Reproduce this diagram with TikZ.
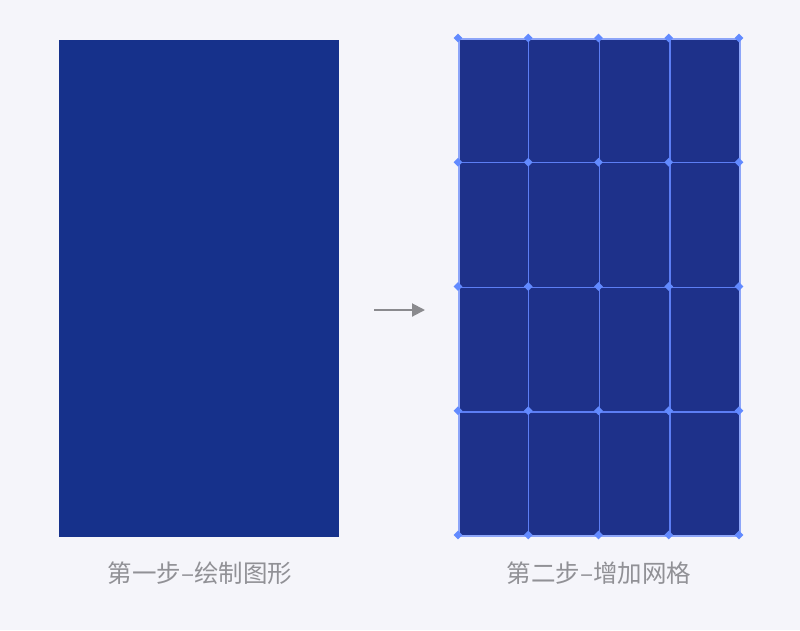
\documentclass[tikz,border=0pt]{standalone}
\usepackage{fontspec}
\newfontfamily\cjk{Noto Sans CJK SC}
\usetikzlibrary{positioning,arrows.meta,shapes.geometric,calc}
\definecolor{bgcol}{RGB}{245,245,250}
\definecolor{shapecol}{RGB}{22,49,139}
\definecolor{gridfill}{RGB}{30,49,138}
\definecolor{gridline}{RGB}{92,126,245}
\definecolor{markcol}{RGB}{98,138,255}
\definecolor{labelcol}{RGB}{145,145,150}

\begin{document}
\begin{tikzpicture}[x=1pt, y=-1pt,
  shapebox/.style={fill=shapecol, inner sep=0pt, minimum width=280pt,
                   minimum height=497pt, anchor=north west},
  gridbox/.style={fill=gridfill, draw=gridline!70!white, line width=1.5pt,
                  inner sep=0pt, minimum width=281pt, minimum height=497pt,
                  anchor=north west},
  gline/.style={draw=gridline, line width=1.5pt},
  gridmark/.style={diamond, fill=markcol, inner sep=0pt, minimum size=9pt},
  arr/.style={-{Triangle[length=13pt, width=13pt]}, line width=2pt, draw=labelcol!95!black},
  steplabel/.style={font=\cjk\fontsize{24.5}{28}\selectfont, text=labelcol}
]
  \useasboundingbox[fill=bgcol] (0,0) rectangle (800,630);

  % Left: the plain shape
  \node[shapebox] (shape) at (59,40) {};
  \node[steplabel] (lbla) at (200,573) {第一步–绘制图形};

  % Right: the same shape with a grid
  \node[gridbox] (grid) at (458,38) {};
  \foreach \i in {1,2,3} {
    \draw[gline] ($(grid.north west)!\i/4!(grid.north east)$) -- ($(grid.south west)!\i/4!(grid.south east)$);
    \draw[gline] ($(grid.north west)!\i/4!(grid.south west)$) -- ($(grid.north east)!\i/4!(grid.south east)$);
  }
  \foreach \i in {0,...,4}
    \foreach \j in {0,...,4}
      \node[gridmark] (m\i\j) at ($(grid.north west)+(\i*70.25,\j*124.25)$) {};
  \node[steplabel] (lblb) at (599,573) {第二步–增加网格};

  % Arrow between the two
  \coordinate (from) at (374,310);
  \coordinate (to) at (425,310);
  \draw[arr] (from) -- (to);
\end{tikzpicture}
\end{document}
